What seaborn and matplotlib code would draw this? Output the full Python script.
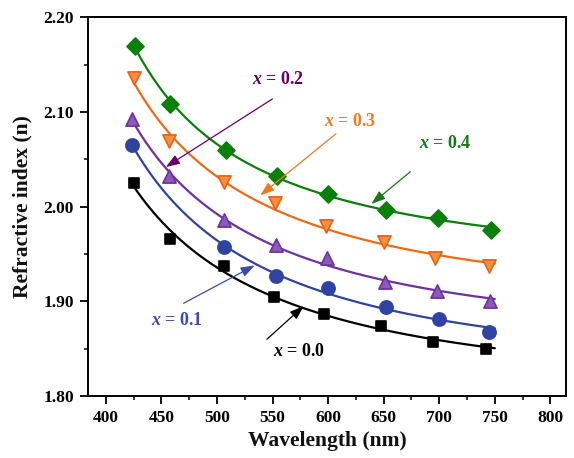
import numpy as np
import pandas as pd
import matplotlib
matplotlib.use("Agg")
import matplotlib.pyplot as plt
import seaborn as sns
from matplotlib.ticker import MultipleLocator

# Measured refractive index vs wavelength for each composition x
wl_00 = [425, 458, 506, 551, 596, 648, 694, 742]
n_00 = [2.025, 1.966, 1.937, 1.905, 1.887, 1.874, 1.857, 1.850]

wl_01 = [424, 506, 553, 600, 652, 700, 745]
n_01 = [2.065, 1.957, 1.927, 1.914, 1.894, 1.881, 1.868]

wl_02 = [424, 457, 506, 553, 599, 651, 698, 746]
n_02 = [2.093, 2.032, 1.986, 1.960, 1.946, 1.920, 1.911, 1.900]

wl_03 = [425, 457, 506, 552, 598, 650, 696, 745]
n_03 = [2.136, 2.069, 2.026, 2.004, 1.980, 1.963, 1.946, 1.937]

wl_04 = [426, 458, 508, 554, 600, 652, 699, 747]
n_04 = [2.170, 2.109, 2.060, 2.032, 2.013, 1.997, 1.988, 1.975]

compositions = ["x = 0.0", "x = 0.1", "x = 0.2", "x = 0.3", "x = 0.4"]
label_text = ["0.0", "0.1", "0.2", "0.3", "0.4"]

series = {
    "x = 0.0": (wl_00, n_00),
    "x = 0.1": (wl_01, n_01),
    "x = 0.2": (wl_02, n_02),
    "x = 0.3": (wl_03, n_03),
    "x = 0.4": (wl_04, n_04),
}

line_colors = {"x = 0.0": "#000000", "x = 0.1": "#2f43a3", "x = 0.2": "#7030a0",
               "x = 0.3": "#f06a14", "x = 0.4": "#0a7f0a"}
face_colors = {"x = 0.0": "#000000", "x = 0.1": "#2f43a3", "x = 0.2": "#8a5cb8",
               "x = 0.3": "#f7903a", "x = 0.4": "#0a7f0a"}
edge_colors = {"x = 0.0": "#000000", "x = 0.1": "#2f43a3", "x = 0.2": "#7030a0",
               "x = 0.3": "#e8601a", "x = 0.4": "#0a7f0a"}
markers = {"x = 0.0": "s", "x = 0.1": "o", "x = 0.2": "^", "x = 0.3": "v", "x = 0.4": "D"}
msizes = {"x = 0.0": 45, "x = 0.1": 90, "x = 0.2": 90, "x = 0.3": 90, "x = 0.4": 75}

# Annotation placement: (text x, text y, arrow tail x, tail y, head x, head y, colour)
ann = {
    "x = 0.0": (574, 1.847, 545, 1.860, 578, 1.895, "#000000"),
    "x = 0.1": (464, 1.880, 470, 1.898, 534, 1.938, "#3a4aad"),
    "x = 0.2": (555, 2.134, 550, 2.114, 454, 2.042, "#660066"),
    "x = 0.3": (620, 2.090, 607, 2.077, 539, 2.012, "#f07a1a"),
    "x = 0.4": (705, 2.067, 674, 2.037, 639, 2.003, "#157a15"),
}

# Long-form tables for seaborn
pts = pd.concat([pd.DataFrame({"wl": w, "n": n, "comp": c}) for c, (w, n) in series.items()],
                ignore_index=True)


def sellmeier_fit(w, n):
    """Single-oscillator fit n² = A + B·λ²/(λ² − λ0²), scanning λ0."""
    best = None
    for lam0 in np.linspace(50.0, 415.0, 366):
        u = w**2 / (w**2 - lam0**2)
        coef = np.polyfit(u, n**2, 1)
        err = np.sum((np.sqrt(np.polyval(coef, u)) - n) ** 2)
        if best is None or err < best[0]:
            best = (err, lam0, coef)
    return best[1], best[2]


fit_rows = []
for c, (w, n) in series.items():
    w = np.asarray(w, float)
    lam0, coef = sellmeier_fit(w, np.asarray(n, float))
    lam = np.linspace(w.min(), 750, 300)
    n_fit = np.sqrt(np.polyval(coef, lam**2 / (lam**2 - lam0**2)))
    fit_rows.append(pd.DataFrame({"wl": lam, "n": n_fit, "comp": c}))
fits = pd.concat(fit_rows, ignore_index=True)

sns.set_theme(style="ticks")
plt.rcParams["font.family"] = ["Liberation Serif", "DejaVu Serif"]
plt.rcParams["font.weight"] = "bold"
plt.rcParams["mathtext.fontset"] = "custom"
plt.rcParams["mathtext.it"] = "Liberation Serif:italic:bold"
plt.rcParams["mathtext.rm"] = "Liberation Serif:bold"

fig = plt.figure(figsize=(5.74, 4.58), dpi=100)
ax = fig.add_axes([0.1533, 0.1354, 0.8327, 0.8264])

sns.lineplot(data=fits, x="wl", y="n", hue="comp", palette=line_colors,
             linewidth=1.6, legend=False, ax=ax, sort=True, estimator=None)

for c in compositions:
    sub = pts[pts["comp"] == c]
    sns.scatterplot(data=sub, x="wl", y="n", marker=markers[c], s=msizes[c],
                    color=face_colors[c], edgecolor=edge_colors[c], linewidth=1.2,
                    legend=False, ax=ax, zorder=3)

for c, lt in zip(compositions, label_text):
    tx, ty, ax0, ay0, hx, hy, col = ann[c]
    ax.annotate("", xy=(hx, hy), xytext=(ax0, ay0),
                arrowprops=dict(arrowstyle="-|>,head_length=0.7,head_width=0.25",
                                color=col, lw=0.9, shrinkA=0, shrinkB=0))
    ax.text(tx, ty, r"$x$ = " + lt, color=col, fontsize=13, fontweight="bold",
            ha="center", va="center")

ax.set_xlim(384, 814)
ax.set_ylim(1.80, 2.20)
ax.set_xticks(np.arange(400, 801, 50))
ax.set_yticks([1.80, 1.90, 2.00, 2.10, 2.20])
ax.set_yticklabels(["1.80", "1.90", "2.00", "2.10", "2.20"])
ax.xaxis.set_minor_locator(MultipleLocator(25))
ax.yaxis.set_minor_locator(MultipleLocator(0.05))
ax.tick_params(which="major", direction="out", length=6, width=1.3, labelsize=12.5,
               top=False, right=False, pad=4, color="black", labelcolor="black")
ax.tick_params(which="minor", direction="out", length=3, width=1.1, top=False, right=False,
               color="black")
for lbl in ax.get_xticklabels() + ax.get_yticklabels():
    lbl.set_fontweight("bold")
for s in ax.spines.values():
    s.set_visible(True)
    s.set_linewidth(1.4)
    s.set_color("black")

ax.set_xlabel("Wavelength (nm)", fontsize=15.5, fontweight="bold", color="#111111", labelpad=4)
ax.set_ylabel("Refractive index (n)", fontsize=15.5, fontweight="bold", color="#111111", labelpad=8)

fig.savefig("out.png", dpi=100, facecolor="white")
